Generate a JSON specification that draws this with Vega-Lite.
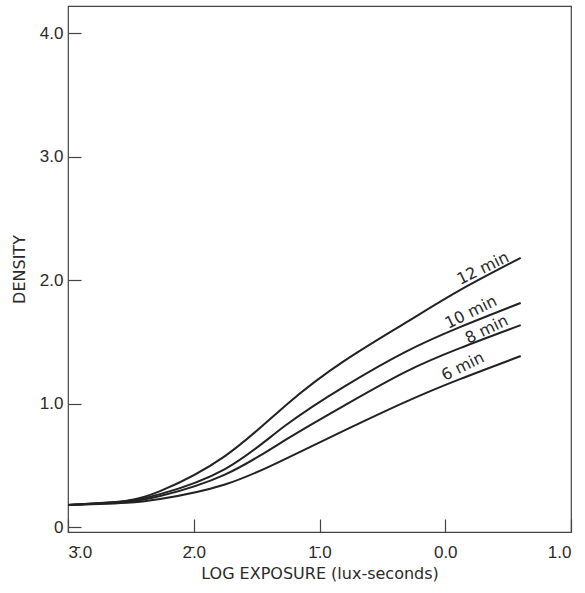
{
  "$schema": "https://vega.github.io/schema/vega-lite/v6.json",
  "width": 503,
  "height": 526,
  "autosize": "none",
  "padding": {"left": 68, "top": 6, "right": 14, "bottom": 61},
  "background": "white",
  "config": {
    "font": "DejaVu Sans",
    "view": {"stroke": "#444", "strokeWidth": 1.2},
    "axis": {"grid": false, "domain": false, "labelFont": "Liberation Sans", "titleFont": "DejaVu Sans", "labelColor": "#2a2a2a", "titleColor": "#2a2a2a", "tickColor": "#444", "tickWidth": 1.2, "labelFontSize": 17, "titleFontSize": 16, "titleFontWeight": "normal"}
  },
  "datasets": {
    "curves": [
      {"exposure": -3.0, "density": 0.178, "time": "12 min"},
      {"exposure": -2.746, "density": 0.194, "time": "12 min"},
      {"exposure": -2.531, "density": 0.214, "time": "12 min"},
      {"exposure": -2.268, "density": 0.291, "time": "12 min"},
      {"exposure": -1.752, "density": 0.575, "time": "12 min"},
      {"exposure": -1.258, "density": 0.995, "time": "12 min"},
      {"exposure": -0.797, "density": 1.35, "time": "12 min"},
      {"exposure": -0.32, "density": 1.652, "time": "12 min"},
      {"exposure": 0.117, "density": 1.919, "time": "12 min"},
      {"exposure": 0.6, "density": 2.18, "time": "12 min"},
      {"exposure": -3.0, "density": 0.178, "time": "10 min"},
      {"exposure": -2.746, "density": 0.192, "time": "10 min"},
      {"exposure": -2.531, "density": 0.211, "time": "10 min"},
      {"exposure": -2.268, "density": 0.267, "time": "10 min"},
      {"exposure": -1.752, "density": 0.47, "time": "10 min"},
      {"exposure": -1.274, "density": 0.82, "time": "10 min"},
      {"exposure": -0.797, "density": 1.142, "time": "10 min"},
      {"exposure": -0.32, "density": 1.417, "time": "10 min"},
      {"exposure": 0.117, "density": 1.619, "time": "10 min"},
      {"exposure": 0.6, "density": 1.815, "time": "10 min"},
      {"exposure": -3.0, "density": 0.178, "time": "8 min"},
      {"exposure": -2.746, "density": 0.19, "time": "8 min"},
      {"exposure": -2.531, "density": 0.204, "time": "8 min"},
      {"exposure": -2.268, "density": 0.251, "time": "8 min"},
      {"exposure": -1.752, "density": 0.425, "time": "8 min"},
      {"exposure": -1.274, "density": 0.704, "time": "8 min"},
      {"exposure": -0.797, "density": 0.988, "time": "8 min"},
      {"exposure": -0.32, "density": 1.255, "time": "8 min"},
      {"exposure": 0.117, "density": 1.449, "time": "8 min"},
      {"exposure": 0.6, "density": 1.635, "time": "8 min"},
      {"exposure": -3.0, "density": 0.178, "time": "6 min"},
      {"exposure": -2.746, "density": 0.186, "time": "6 min"},
      {"exposure": -2.531, "density": 0.196, "time": "6 min"},
      {"exposure": -2.268, "density": 0.227, "time": "6 min"},
      {"exposure": -1.752, "density": 0.345, "time": "6 min"},
      {"exposure": -1.274, "density": 0.551, "time": "6 min"},
      {"exposure": -0.797, "density": 0.785, "time": "6 min"},
      {"exposure": -0.32, "density": 1.012, "time": "6 min"},
      {"exposure": 0.117, "density": 1.198, "time": "6 min"},
      {"exposure": 0.6, "density": 1.385, "time": "6 min"}
    ],
    "labels": [
      {"exposure": 0.3, "density": 2.095, "time": "12 min"},
      {"exposure": 0.205, "density": 1.74, "time": "10 min"},
      {"exposure": 0.33, "density": 1.6, "time": "8 min"},
      {"exposure": 0.14, "density": 1.3, "time": "6 min"}
    ]
  },
  "encoding": {
    "x": {
      "field": "exposure", "type": "quantitative",
      "scale": {"domain": [-3, 1], "nice": false, "zero": false},
      "axis": {
        "values": [-3, -2, -1, 0, 1],
        "tickSize": -13, "labelPadding": 25,
        "labelExpr": "datum.value < 0 ? (-datum.value) + '\u0304.0' : format(datum.value, '.1f')",
        "title": "LOG EXPOSURE (lux-seconds)", "titlePadding": 5
      }
    },
    "y": {
      "field": "density", "type": "quantitative",
      "scale": {"domain": [-0.04, 4.22], "nice": false, "zero": false},
      "axis": {
        "values": [0, 1, 2, 3, 4],
        "tickSize": -13, "labelPadding": 18,
        "labelExpr": "datum.value == 0 ? '0' : format(datum.value, '.1f')",
        "title": "DENSITY", "titlePadding": 12
      }
    }
  },
  "layer": [
    {
      "data": {"name": "curves"},
      "mark": {"type": "line", "interpolate": "natural", "color": "#222", "strokeWidth": 2},
      "encoding": {"detail": {"field": "time"}}
    },
    {
      "data": {"name": "labels"},
      "mark": {"type": "text", "angle": 334, "fontSize": 16, "color": "#2a2a2a", "align": "center", "baseline": "middle", "font": "DejaVu Sans"},
      "encoding": {"text": {"field": "time"}}
    }
  ]
}
